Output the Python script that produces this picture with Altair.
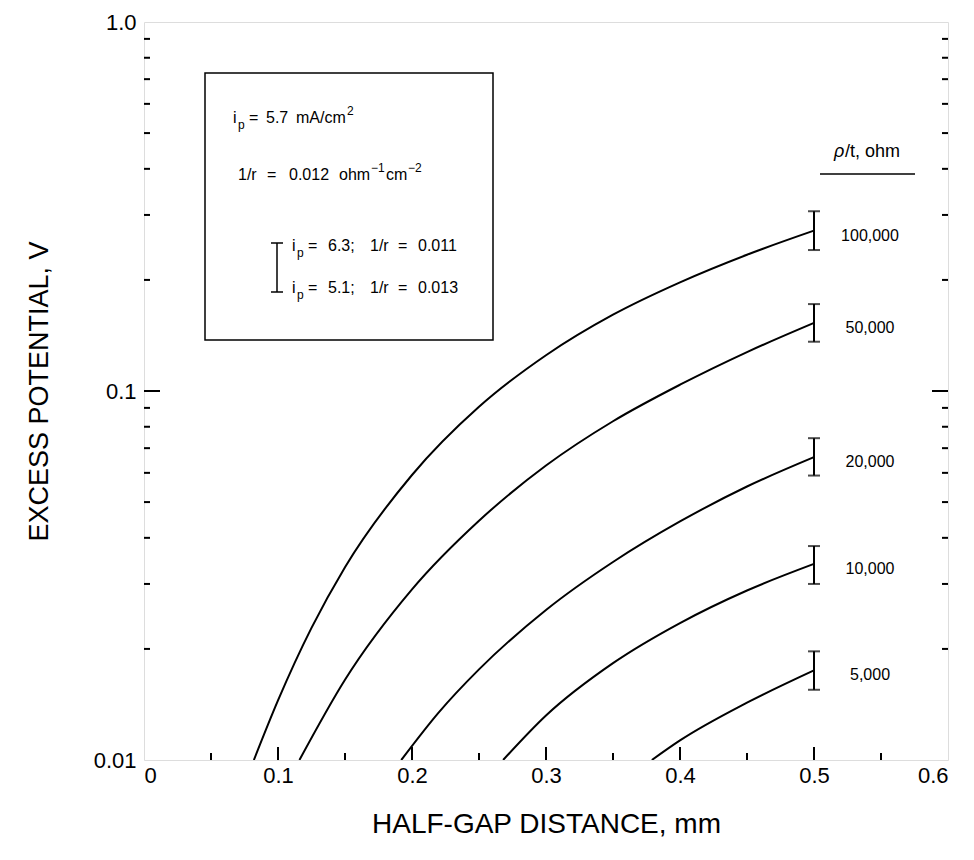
import altair as alt
import pandas as pd

# ---- data ----
series_names = ["100,000", "50,000", "20,000", "10,000", "5,000"]

x_100k = [0.082, 0.10, 0.125, 0.15, 0.20, 0.25, 0.30, 0.35, 0.40, 0.45, 0.50]
v_100k = [0.010, 0.0145, 0.0228, 0.0333, 0.0592, 0.0906, 0.125, 0.161, 0.197, 0.234, 0.272]

x_50k = [0.116, 0.15, 0.20, 0.25, 0.30, 0.35, 0.40, 0.45, 0.50]
v_50k = [0.010, 0.0165, 0.0290, 0.0445, 0.0628, 0.0828, 0.104, 0.1275, 0.153]

x_20k = [0.192, 0.22, 0.25, 0.30, 0.35, 0.40, 0.45, 0.50]
v_20k = [0.010, 0.01346, 0.0176, 0.0255, 0.0344, 0.0443, 0.0551, 0.0662]

x_10k = [0.268, 0.30, 0.35, 0.40, 0.45, 0.50]
v_10k = [0.010, 0.0132, 0.0183, 0.0235, 0.0288, 0.034]

x_5k = [0.379, 0.40, 0.45, 0.50]
v_5k = [0.010, 0.0113, 0.0143, 0.0175]

# error bars at x = 0.5 (i_p=6.3,1/r=0.011 high ; i_p=5.1,1/r=0.013 low)
err_x = [0.5, 0.5, 0.5, 0.5, 0.5]
err_mid = [0.272, 0.153, 0.0662, 0.034, 0.0175]
err_hi = [0.307, 0.172, 0.0745, 0.038, 0.0197]
err_lo = [0.241, 0.136, 0.0590, 0.030, 0.0155]

x_ticks = [0, 0.1, 0.2, 0.3, 0.4, 0.5, 0.6]
x_major = [0.1, 0.2, 0.3, 0.4, 0.5]
x_minor = [0.05, 0.15, 0.25, 0.35, 0.45, 0.55]
y_ticks = [0.01, 0.1, 1.0]
y_major = [0.1]
y_minor = [0.02, 0.03, 0.04, 0.05, 0.06, 0.07, 0.08, 0.09,
           0.2, 0.3, 0.4, 0.5, 0.6, 0.7, 0.8, 0.9]

W, H = 804, 738
FONT = "Liberation Sans"

rows = []
for name, xs, vs in zip(series_names,
                        [x_100k, x_50k, x_20k, x_10k, x_5k],
                        [v_100k, v_50k, v_20k, v_10k, v_5k]):
    for xv, vv in zip(xs, vs):
        rows.append({"series": name, "x": xv, "v": vv})
df_lines = pd.DataFrame(rows)
df_err = pd.DataFrame({"series": series_names, "x": err_x, "mid": err_mid,
                       "hi": err_hi, "lo": err_lo})

xscale = alt.Scale(domain=[0, 0.6], nice=False, zero=False)
yscale = alt.Scale(type="log", domain=[0.01, 1.0], nice=False)

base_x = alt.X("x:Q", scale=xscale,
               axis=alt.Axis(values=x_ticks, ticks=False, domain=False, grid=False,
                             labelExpr="datum.value == 0 ? '0' : format(datum.value, '.1f')",
                             labelFont=FONT, labelFontSize=22, labelColor="black",
                             labelPadding=5, title="HALF-GAP  DISTANCE,  mm",
                             titleFont=FONT, titleFontSize=28, titleFontWeight="normal",
                             titleColor="black", titlePadding=24))
base_y = alt.Y("v:Q", scale=yscale,
               axis=alt.Axis(values=y_ticks, ticks=False, domain=False, grid=False,
                             labelExpr="datum.value < 0.05 ? '0.01' : (datum.value < 0.5 ? '0.1' : '1.0')",
                             labelFont=FONT, labelFontSize=22, labelColor="black",
                             labelPadding=8, title="EXCESS  POTENTIAL,  V",
                             titleFont=FONT, titleFontSize=27, titleFontWeight="normal",
                             titleColor="black", titlePadding=40))

lines = alt.Chart(df_lines).mark_line(color="black", strokeWidth=2, interpolate="monotone", clip=True).encode(
    x=base_x, y=base_y, detail="series:N")

err_rule = alt.Chart(df_err).mark_rule(color="black", strokeWidth=2).encode(
    x=alt.X("x:Q", scale=xscale), y=alt.Y("lo:Q", scale=yscale), y2="hi:Q")
cap_hi = alt.Chart(df_err).mark_tick(color="black", orient="horizontal", size=12, thickness=2).encode(
    x=alt.X("x:Q", scale=xscale), y=alt.Y("hi:Q", scale=yscale))
cap_lo = alt.Chart(df_err).mark_tick(color="black", orient="horizontal", size=12, thickness=2).encode(
    x=alt.X("x:Q", scale=xscale), y=alt.Y("lo:Q", scale=yscale))

labels = alt.Chart(df_err).mark_text(font=FONT, fontSize=16, align="center", baseline="middle",
                                     dy=5, color="black").encode(
    x=alt.value(726), y=alt.Y("mid:Q", scale=yscale), text="series:N")

# axis ticks (inward)
df_xmaj = pd.DataFrame({"x": x_major})
df_xmin = pd.DataFrame({"x": x_minor})
df_ymaj = pd.DataFrame({"v": y_major})
df_ymin = pd.DataFrame({"v": y_minor})

tk = dict(color="black", strokeWidth=2)
xt_maj = alt.Chart(df_xmaj).mark_rule(**tk).encode(
    x=alt.X("x:Q", scale=xscale), y=alt.value(H), y2=alt.value(H - 13))
xt_min = alt.Chart(df_xmin).mark_rule(**tk).encode(
    x=alt.X("x:Q", scale=xscale), y=alt.value(H), y2=alt.value(H - 7))
yl_maj = alt.Chart(df_ymaj).mark_rule(**tk).encode(
    y=alt.Y("v:Q", scale=yscale), x=alt.value(0), x2=alt.value(16))
yl_min = alt.Chart(df_ymin).mark_rule(**tk).encode(
    y=alt.Y("v:Q", scale=yscale), x=alt.value(0), x2=alt.value(6))
yr_maj = alt.Chart(df_ymaj).mark_rule(**tk).encode(
    y=alt.Y("v:Q", scale=yscale), x=alt.value(W), x2=alt.value(W - 16))
yr_min = alt.Chart(df_ymin).mark_rule(**tk).encode(
    y=alt.Y("v:Q", scale=yscale), x=alt.value(W), x2=alt.value(W - 6))

one = pd.DataFrame({"a": [0]})


def txt(s, x, y, size=16, align="left", style="normal"):
    return alt.Chart(one).mark_text(font=FONT, fontSize=size, align=align, baseline="middle",
                                    color="black", fontStyle=style).encode(
        x=alt.value(x), y=alt.value(y), text=alt.value(s))


def rule(x1, y1, x2, y2, w=1.5):
    return alt.Chart(one).mark_rule(color="black", strokeWidth=w).encode(
        x=alt.value(x1), y=alt.value(y1), x2=alt.value(x2), y2=alt.value(y2))


box = alt.Chart(one).mark_rect(fillOpacity=0, stroke="black", strokeWidth=1.5).encode(
    x=alt.value(61), x2=alt.value(349), y=alt.value(51), y2=alt.value(318))

L1, L2, L3, L4 = 96, 153, 224, 266
ann = [
    box,
    # line 1
    txt("i", 89, L1), txt("p", 94, L1 + 7, size=12), txt("=", 105, L1),
    txt("5.7", 122, L1), txt("mA/cm", 152, L1), txt("2", 203, L1 - 7, size=12),
    # line 2
    txt("1/r", 94, L2), txt("=", 123, L2), txt("0.012", 145, L2), txt("ohm", 195, L2),
    txt("−1", 227, L2 - 7, size=12), txt("cm", 242, L2), txt("−2", 264, L2 - 7, size=12),
    # line 3
    txt("i", 148, L3), txt("p", 153, L3 + 7, size=12), txt("=", 164, L3), txt("6.3;", 184, L3),
    txt("1/r", 226, L3), txt("=", 254, L3), txt("0.011", 274, L3),
    # line 4
    txt("i", 148, L4), txt("p", 153, L4 + 7, size=12), txt("=", 164, L4), txt("5.1;", 184, L4),
    txt("1/r", 226, L4), txt("=", 254, L4), txt("0.013", 274, L4),
    # legend error bar symbol
    rule(133, 221, 133, 270), rule(127, 221, 139, 221), rule(127, 270, 139, 270),
    # header right
    txt("ρ", 690, 130, size=18, style="italic"), txt("/t,  ohm", 701, 130, size=18),
    rule(676, 152, 771, 152, w=1.5),
]

chart = alt.layer(lines, err_rule, cap_hi, cap_lo, labels,
                  xt_maj, xt_min, yl_maj, yl_min, yr_maj, yr_min, *ann).properties(
    width=W, height=H,
    padding={"left": 136, "top": 14, "right": 14, "bottom": 84},
    autosize=alt.AutoSizeParams(type="none"),
).configure_view(stroke="black", strokeWidth=2).configure(background="white")

chart.save("out.html", embed_options={"renderer": "svg", "actions": False})
